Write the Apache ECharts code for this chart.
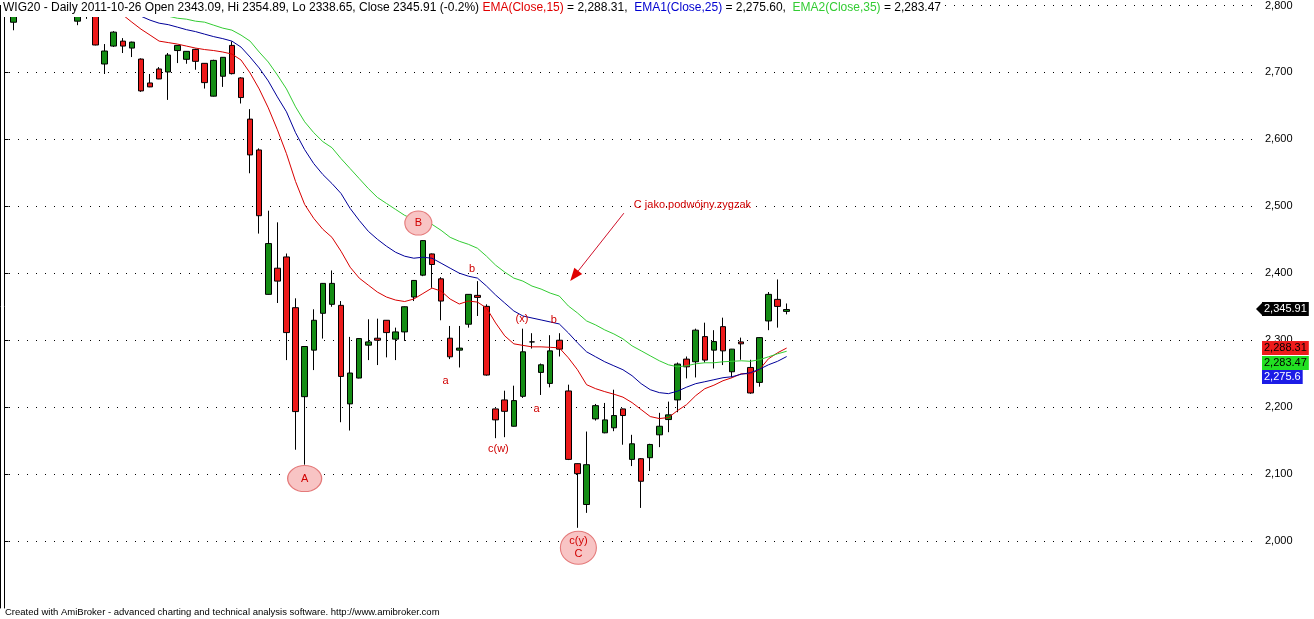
<!DOCTYPE html>
<html>
<head>
<meta charset="utf-8">
<script src="https://cdn.jsdelivr.net/npm/echarts@6/dist/echarts.min.js"></script>
<style>html,body{margin:0;padding:0;background:#fff}#c{width:1314px;height:619px}</style>
</head>
<body>
<div id="c"></div>
<script>
const FONT = "'Liberation Sans', Arial, sans-serif";
const ticker = 'WIG20';
const lastDate = '2011-10-26';
const slotCount = 138;   // daily slots on the x axis (87 sessions + empty right margin)

const open = [2805,2775,2810,2822,2815,2828,2818,2808,2776.6,2797,2786,2712.6,2739.4,2746.8,2736.4,2720,2684.3,2705.2,2700.7,2732.7,2719.6,2734.5,2713.6,2664.6,2694.3,2740.4,2691.8,2630.3,2584.2,2368.5,2407.6,2424.4,2348.6,2215.7,2285.2,2340.2,2353.6,2352.1,2204.9,2243.5,2292.6,2303,2329.8,2301.6,2312.4,2364.5,2397.2,2428.9,2391.7,2303,2285.2,2323.9,2367,2350.6,2197.4,2210.8,2171.5,2216.2,2297.5,2251.9,2235.5,2300,2224.2,2115.6,2054.6,2182.5,2161.7,2169.2,2197.4,2122,2123,2124.5,2158.7,2181.5,2210.8,2271.8,2267.8,2305.4,2285.2,2320.3,2252.9,2297.5,2259.3,2237,2328.8,2361,2343.09];
const close = [2790,2792,2822,2815,2828,2818,2808,2799,2785,2790,2741,2732,2760.2,2739.4,2745.3,2672.4,2678.4,2690.3,2726,2740.4,2731.5,2716.6,2684.8,2718,2722.6,2698.2,2662.5,2576.8,2486,2444.4,2388.3,2311.4,2193.4,2290.6,2329.8,2384.9,2384.9,2245.9,2251,2302.5,2297.5,2300,2311.4,2312.4,2350,2389.3,2448.8,2413.1,2358.5,2275.2,2288.2,2368.5,2364,2248,2181,2193.8,2209.8,2282.7,2297.5,2263.3,2284.1,2286.7,2122,2100.7,2114.1,2202.3,2181,2187.5,2187.5,2145.3,2089.3,2144.3,2171.5,2188.5,2264.4,2260.3,2315,2270.3,2298,2284.1,2286.7,2294.6,2221.2,2303.9,2368.5,2350.5,2345.91];
const low = [2754,2763,2798,2805,2808,2806,2797,2790,2770.6,2780,2740.5,2697.7,2738,2729,2723,2671,2678,2690,2659,2714,2713,2704,2675.9,2664,2678.4,2697,2653.6,2549.4,2459.3,2368,2355.6,2270.3,2136.4,2114.1,2255.4,2302.5,2350,2177.5,2165.1,2243,2270.3,2262.9,2274.4,2270.3,2299,2358.5,2395.7,2378.3,2329.8,2271.8,2259.3,2318.8,2336.2,2247,2153.7,2155.2,2171,2213.8,2287.6,2218.2,2229.6,2275.7,2121,2019.8,2042.1,2180,2161,2164.1,2143.9,2112,2049.5,2104.6,2140.3,2162.6,2192.4,2243,2244.4,2266.7,2257.8,2262.9,2244.4,2270.8,2220,2230.6,2315,2318.8,2338.65];
const high = [2815,2800,2830,2832,2836,2834,2826,2815,2792,2806,2792,2742.4,2761.7,2751.3,2746,2721,2697.7,2708,2729,2741,2732,2735.5,2714,2719,2723,2746.4,2693,2645.2,2586.6,2493.5,2476.1,2429.5,2362.6,2291,2346.2,2385.5,2404.2,2358.5,2305,2303,2331.3,2332.2,2330,2318.8,2350.5,2390,2449.5,2429.5,2394.2,2321.3,2321.3,2369,2388.3,2353.6,2198,2224.6,2232.1,2317.3,2310.5,2265.2,2307.5,2310.5,2233.6,2116,2163.6,2204.8,2206.3,2226.1,2198,2158.7,2124,2145.3,2191.5,2208.3,2266.7,2275.7,2317.3,2326.2,2315,2333.7,2287,2303.9,2270.8,2304.5,2372,2390.8,2354.89];

// moving averages (first visible session given by *Start)
const ema15Start = 13;
const ema15Vals = [2786,2775.1,2764.7,2755.8,2746.8,2744.6,2742.4,2739.4,2736.4,2734.2,2732.7,2730.5,2727.5,2718.6,2699.2,2675.4,2647.1,2614.4,2578.7,2537.1,2502.8,2482,2465.7,2453.7,2432.9,2409.1,2392.8,2382.3,2371.9,2364.5,2360,2357.8,2361.5,2369.7,2377.9,2373.4,2361.5,2354.1,2358.5,2357,2348.1,2325.8,2306.5,2294.6,2292.3,2290.1,2290.1,2289.4,2288.6,2273.7,2255.9,2233.6,2227.6,2223.2,2219.4,2215,2206.8,2196.4,2186,2183,2184.5,2194.9,2203.8,2217.2,2227.6,2232.8,2239.5,2244,2249.9,2249.9,2255.9,2272.3,2281.2,2288.31];
const ema25Start = 15;
const ema25Vals = [2784,2778.1,2773.6,2771.4,2767.7,2763.9,2761,2757.2,2753.5,2750.5,2746.8,2737.9,2723,2706.7,2687.3,2663.5,2641.2,2610,2584.7,2563.8,2547.5,2534.1,2519.2,2496.9,2479,2462.7,2450.8,2440.4,2431.4,2425.5,2422.5,2424,2422.5,2415.1,2407.6,2400.2,2395.7,2392.8,2380.9,2367.5,2355.6,2343.7,2336.2,2333.2,2330.3,2327.3,2324.3,2310.9,2296.1,2282.7,2275.2,2267.8,2261.8,2255.9,2247,2235.1,2226.1,2221.7,2220.2,2223.9,2229.9,2235.1,2238,2241,2244,2245.5,2249.2,2251.4,2256.6,2263.3,2268.5,2275.6];
const ema35Start = 18;
const ema35Vals = [2784,2781,2779.6,2776.6,2775.1,2770.6,2766.2,2763.2,2755.8,2746.8,2730.5,2715.6,2696.2,2675.4,2648.6,2626.3,2610,2596.6,2587.6,2571.3,2556.4,2541.5,2526.6,2513.3,2504.3,2495.4,2486.5,2480.5,2477.6,2473.1,2464.2,2453.7,2447.8,2443.3,2437.4,2425.5,2412.1,2401.7,2392.8,2388.3,2380.9,2376.4,2370.4,2366,2351.1,2340.7,2328.8,2322.8,2315.4,2309.4,2302,2291.6,2284.2,2276.7,2269.3,2263.3,2260.3,2261.8,2264.8,2266.3,2266.3,2267.8,2268.5,2269.3,2268.5,2270.8,2275.2,2279.7,2283.47];

const yMin = 1900, yMax = 2800, yStep = 100;

// Elliott wave annotations: [text, session position, price]
const waveLabels = [
  ['a', 48.5, 2239.5], ['b', 51.4, 2406.6], ['c(w)', 54.3, 2137.9],
  ['(x)', 56.9, 2331.3], ['b', 60.4, 2330.3], ['a', 58.5, 2197.4]
];
const circleNotes = [
  ['A', 33.0, 2093.3], ['B', 45.5, 2475.0], ['c(y)\nC', 63.1, 1990.0]
];
const circleSize = [[17, 13], [13.5, 12], [18, 16.5]];
const arrowFrom = [68.1, 2489.8];
const arrowTo = [62.2, 2388.3];
const noteText = 'C jako.podwójny.zygzak';
const notePos = [69.2, 2502.4];
const footer = 'Created with AmiBroker - advanced charting and technical analysis software. http://www.amibroker.com';

// ---------- derived ----------
const n = open.length;
const categories = Array.from({length: slotCount}, (_, i) => String(i));
const pad = (start, vals) => Array(start).fill(null).concat(vals);
const ema15 = pad(ema15Start, ema15Vals);
const ema25 = pad(ema25Start, ema25Vals);
const ema35 = pad(ema35Start, ema35Vals);
const last = n - 1;
const f2 = v => v.toFixed(2);
const fc2 = v => v.toLocaleString('en-US', {minimumFractionDigits: 2, maximumFractionDigits: 2});
const fcTag = v => v.toLocaleString('en-US', {minimumFractionDigits: 0, maximumFractionDigits: 2});
const chg = ((close[last] - close[last - 1]) / close[last - 1] * 100).toFixed(1);

const C_RED = '#d80000', C_BLUE = '#000099', C_GREEN = '#33cc33';

const titleText =
  '{k|' + ticker + ' - Daily ' + lastDate + ' Open ' + f2(open[last]) + ', Hi ' + f2(high[last]) +
  ', Lo ' + f2(low[last]) + ', Close ' + f2(close[last]) + ' (' + chg + '%) }' +
  '{r|EMA(Close,15)}{k| = ' + fc2(ema15[last]) + ',  }' +
  '{b|EMA1(Close,25)}{k| = ' + fc2(ema25[last]) + ',  }' +
  '{g|EMA2(Close,35)}{k| = ' + fc2(ema35[last]) + '}';

const priceTags = [
  {value: close[last], bg: '#000000', fg: '#ffffff', arrow: true},
  {value: ema15[last], bg: '#ee1c1c', fg: '#000000'},
  {value: ema35[last], bg: '#22e022', fg: '#000000'},
  {value: ema25[last], bg: '#1c1ce6', fg: '#ffffff'}
];

const chart = echarts.init(document.getElementById('c'), null, {renderer: 'canvas'});
const tf = (size) => ({fontSize: size, fontFamily: FONT});

chart.setOption({
  animation: false,
  backgroundColor: '#ffffff',
  title: {
    text: titleText,
    left: 1, top: 0,
    padding: [2, 3, 3, 2],
    backgroundColor: '#ffffff',
    textStyle: {
      ...tf(12), color: '#000', fontWeight: 'normal',
      rich: {
        k: {...tf(12), color: '#000'},
        r: {...tf(12), color: '#e00000'},
        b: {...tf(12), color: '#0000d0'},
        g: {...tf(12), color: '#33cc33'}
      }
    }
  },
  grid: {left: 0, right: 59, top: 3, bottom: 11, containLabel: false},
  xAxis: [
    {type: 'category', data: categories, boundaryGap: true, show: false},
    {type: 'value', min: -0.5, max: slotCount - 0.5, show: false}
  ],
  yAxis: [
    {
      type: 'value', position: 'right', min: yMin, max: yMax, interval: yStep,
      axisLine: {show: true, lineStyle: {color: '#000', width: 1}},
      axisTick: {show: true, length: 4, lineStyle: {color: '#000'}},
      axisLabel: {color: '#000', ...tf(11), margin: 10, showMinLabel: false,
        formatter: v => v.toLocaleString('en-US')},
      splitLine: {show: true, showMinLine: false, lineStyle: {color: '#000', width: 1, type: [1, 8]}}
    },
    {
      type: 'value', position: 'left', min: yMin, max: yMax, interval: yStep,
      axisLine: {show: true, lineStyle: {color: '#000', width: 1}},
      axisTick: {show: false}, axisLabel: {show: false}, splitLine: {show: false}
    }
  ],
  series: [
    {
      type: 'candlestick', xAxisIndex: 0, yAxisIndex: 0, clip: true,
      barWidth: 6,
      data: open.map((o, i) => [o, close[i], low[i], high[i]]),
      itemStyle: {
        color: '#148c14', color0: '#ec1a1a',
        borderColor: '#000', borderColor0: '#000', borderColorDoji: '#000',
        borderWidth: 1
      },
      emphasis: {disabled: true}
    },
    {type: 'line', data: ema15, symbol: 'none', clip: true, lineStyle: {color: C_RED, width: 1}, itemStyle: {color: C_RED}, z: 3},
    {type: 'line', data: ema25, symbol: 'none', clip: true, lineStyle: {color: C_BLUE, width: 1}, itemStyle: {color: C_BLUE}, z: 3},
    {type: 'line', data: ema35, symbol: 'none', clip: true, lineStyle: {color: C_GREEN, width: 1}, itemStyle: {color: C_GREEN}, z: 3},
    {
      type: 'custom', xAxisIndex: 1, yAxisIndex: 0, z: 5,
      data: circleNotes.map(d => [d[1], d[2]]),
      renderItem: (params, api) => {
        const p = api.coord([api.value(0), api.value(1)]);
        const s = circleSize[params.dataIndex];
        return {type: 'group', children: [
          {type: 'circle', x: p[0], y: p[1], scaleX: s[0] / s[1], shape: {cx: 0, cy: 0, r: s[1]},
           style: {fill: '#f8c4c4', stroke: '#e47a7a', lineWidth: 1, strokeNoScale: true}},
          {type: 'text', x: p[0], y: p[1],
           style: {text: circleNotes[params.dataIndex][0], fill: '#d00000', font: '11px ' + FONT,
                   align: 'center', verticalAlign: 'middle', lineHeight: 13}}
        ]};
      }
    },
    {
      type: 'custom', xAxisIndex: 1, yAxisIndex: 0, z: 5,
      data: waveLabels.map(d => [d[1], d[2]]),
      renderItem: (params, api) => {
        const p = api.coord([api.value(0), api.value(1)]);
        return {type: 'text', x: p[0], y: p[1],
          style: {text: waveLabels[params.dataIndex][0], fill: '#d00000', font: '11px ' + FONT,
                  align: 'center', verticalAlign: 'middle'}};
      }
    },
    {
      type: 'custom', xAxisIndex: 1, yAxisIndex: 0, z: 5,
      data: [[arrowFrom[0], arrowFrom[1], arrowTo[0], arrowTo[1], notePos[0], notePos[1]]],
      renderItem: (params, api) => {
        const a = api.coord([api.value(0), api.value(1)]);
        const b = api.coord([api.value(2), api.value(3)]);
        const t = api.coord([api.value(4), api.value(5)]);
        const dx = b[0] - a[0], dy = b[1] - a[1], len = Math.hypot(dx, dy);
        const ux = dx / len, uy = dy / len, L = 13, W = 5;
        const bx = b[0] - ux * L, by = b[1] - uy * L;
        return {type: 'group', children: [
          {type: 'line', shape: {x1: a[0], y1: a[1], x2: bx, y2: by}, style: {stroke: '#d0102a', lineWidth: 1}},
          {type: 'polygon', shape: {points: [[b[0], b[1]], [bx - uy * W, by + ux * W], [bx + uy * W, by - ux * W]]},
           style: {fill: '#e00000'}},
          {type: 'text', x: t[0], y: t[1],
           style: {text: noteText, fill: '#d00000', font: '11px ' + FONT, align: 'left', verticalAlign: 'middle'}}
        ]};
      }
    },
    {
      type: 'custom', xAxisIndex: 1, yAxisIndex: 0, z: 6,
      data: priceTags.map(t => [0, t.value]),
      renderItem: (params, api) => {
        const cs = params.coordSys;
        const ax = cs.x + cs.width;
        const ys = priceTags.map(t => api.coord([0, t.value])[1]);
        const order = ys.map((y, i) => i).sort((i, j) => ys[i] - ys[j]);
        const adj = ys.slice();
        let prev = -Infinity;
        order.forEach(i => { adj[i] = Math.max(ys[i], prev + 14.5); prev = adj[i]; });
        const tag = priceTags[params.dataIndex];
        const y = Math.round(adj[params.dataIndex]);
        const children = [];
        if (tag.arrow) {
          children.push({type: 'polygon', shape: {points: [[ax + 1, y], [ax + 8, y - 7], [ax + 8, y + 7]]},
                         style: {fill: tag.bg}});
        }
        children.push({type: 'text', x: ax + 7, y: y,
          style: {text: fcTag(tag.value), fill: tag.fg, font: '11px ' + FONT, align: 'left', verticalAlign: 'middle',
                  backgroundColor: tag.bg, padding: [2, 2, 1, 2]}});
        return {type: 'group', children};
      }
    }
  ],
  graphic: [
    {type: 'text', left: 5, top: 607, style: {text: footer, fill: '#000', font: '9.5px ' + FONT}}
  ]
});
</script>
</body>
</html>
